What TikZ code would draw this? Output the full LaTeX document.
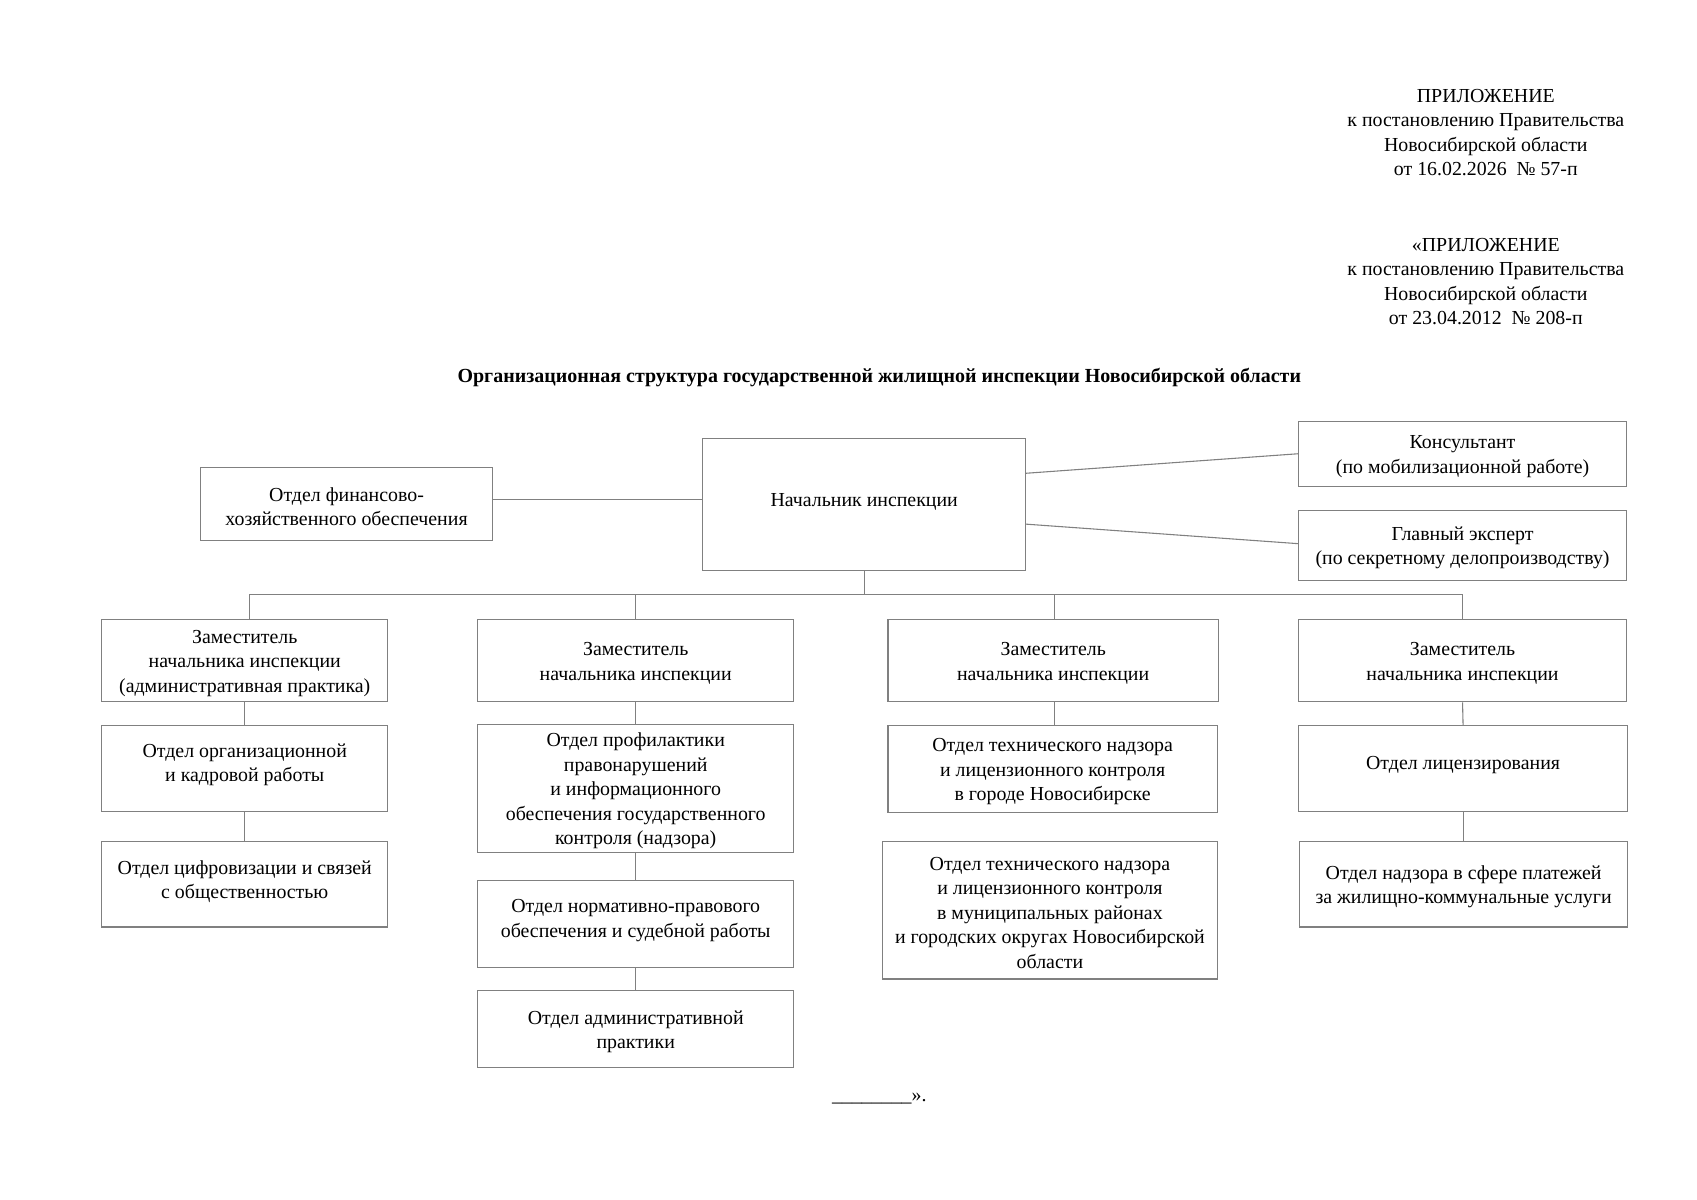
\documentclass[tikz,border=0pt]{standalone}
\usepackage{fontspec}
\setmainfont{Liberation Serif}
\usetikzlibrary{calc}
\tikzset{
  box/.style={draw=black!50, line width=1pt, inner sep=0pt},
  txt/.style={align=center, inner sep=0pt, yshift=-2.5pt, font=\fontsize{18.35}{22.6}\selectfont},
  conn/.style={draw=black!50, line width=1pt},
}
\newcommand\obox[7]{%
  \node[box, minimum width=#4pt, minimum height=#5pt] (#1) at (#2,#3) {};
  \node[txt] (#1t) at ($(#1.center)+(0,#6)$) {#7};}
\begin{document}
\begin{tikzpicture}[x=1pt,y=-1pt]
\useasboundingbox[fill=white] (0,0) rectangle (1567,1108);
% header
\node[txt] (app1) at (1372,120) {ПРИЛОЖЕНИЕ\\к постановлению Правительства\\Новосибирской области\\от 16.02.2026\ \ № 57-п};
\node[txt] (app2) at (1372,257.5) {«ПРИЛОЖЕНИЕ\\к постановлению Правительства\\Новосибирской области\\от 23.04.2012\ \ № 208-п};
\node[txt, font=\fontsize{18.45}{22.6}\selectfont\bfseries] (title) at (812,346) {Организационная структура государственной жилищной инспекции Новосибирской области};
% top
\obox{fin}{320}{465.5}{270}{67}{0}{Отдел финансово-\\хозяйственного обеспечения}
\obox{head}{798}{466}{298}{122}{-5}{Начальник инспекции}
\obox{cons}{1350.5}{419}{303}{60}{0}{Консультант\\(по мобилизационной работе)}
\obox{exp}{1350.5}{503.5}{303}{65}{0}{Главный эксперт\\(по секретному делопроизводству)}
% deputies
\obox{d1}{226}{610}{264}{76}{0}{Заместитель\\начальника инспекции\\(административная практика)}
\obox{d2}{587}{610}{292}{76}{0}{Заместитель\\начальника инспекции}
\obox{d3}{972.5}{610}{305}{76}{0}{Заместитель\\начальника инспекции}
\obox{d4}{1350.5}{610}{303}{76}{0}{Заместитель\\начальника инспекции}
% row 2
\obox{a2}{226}{709.5}{264}{79}{-6}{Отдел организационной\\и кадровой работы}
\obox{b2}{587}{728}{292}{118}{0}{Отдел профилактики\\правонарушений\\и информационного\\обеспечения государственного\\контроля (надзора)}
\obox{c2}{972}{710}{304}{80}{0}{Отдел технического надзора\\и лицензионного контроля\\в городе Новосибирске}
\obox{e2}{1351}{709.5}{304}{79}{-5.5}{Отдел лицензирования}
% row 3
\obox{a3}{226}{816.5}{264}{79}{-5}{Отдел цифровизации и связей\\с общественностью}
\obox{b3}{587}{853}{292}{80}{-5.5}{Отдел нормативно-правового\\обеспечения и судебной работы}
\obox{c3}{969.5}{840.5}{309}{127}{0}{Отдел технического надзора\\и лицензионного контроля\\в муниципальных районах\\и городских округах Новосибирской\\области}
\obox{e3}{1351.5}{816.5}{303}{79}{0}{Отдел надзора в сфере платежей\\за жилищно-коммунальные услуги}
% row 4
\obox{b4}{587}{950.5}{292}{71}{0}{Отдел административной\\практики}
% bottom
\node[txt] (end) at (812,1012) {\_\_\_\_\_\_\_\_».};
% connectors
\coordinate (bus) at (798,549);
\draw[conn] ($(fin.east)+(0,-4.5)$) -- ($(head.west)+(0,-5)$);
\draw[conn] ($(head.east)+(0,-29)$) -- (cons.west);
\draw[conn] ($(head.east)+(0,18)$) -- ($(exp.west)+(0,-1.5)$);
\draw[conn] (head.south) -- (bus);
\draw[conn] ($(d1.north)+(4,0)$) |- (bus);
\draw[conn] (d2.north) |- (bus);
\draw[conn] ($(d3.north)+(1.5,0)$) |- (bus);
\draw[conn] (d4.north) |- (bus);
\draw[conn] (d1.south) -- (a2.north);
\draw[conn] (a2.south) -- (a3.north);
\draw[conn] (d2.south) -- (b2.north);
\draw[conn] (b2.south) -- (b3.north);
\draw[conn] (b3.south) -- (b4.north);
\draw[conn] ($(d3.south)+(1.5,0)$) -- ($(c2.north)+(2,0)$);
\draw[conn] ($(c2.south)+(2,0)$) -- ($(c2.south)+(2,0)$ |- c3.north);
\draw[conn] (d4.south) -- (e2.north);
\draw[conn] (e2.south) -- (e2.south |- e3.north);
\end{tikzpicture}
\end{document}
